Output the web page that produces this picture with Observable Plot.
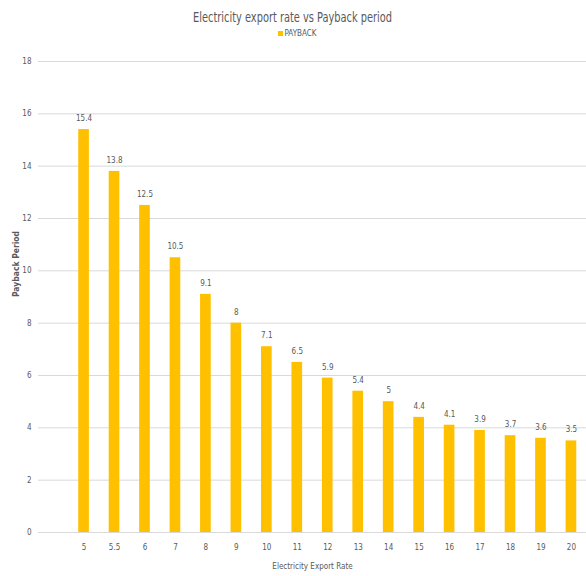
<!DOCTYPE html>
<html>
<head>
<meta charset="utf-8">
<script src="https://cdn.jsdelivr.net/npm/d3@7"></script>
<script src="https://cdn.jsdelivr.net/npm/@observablehq/plot@0.6"></script>
<style>
  html, body { margin: 0; padding: 0; background: #fff; }
  body { width: 586px; height: 576px; overflow: hidden; font-family: "Liberation Sans Narrow", "DejaVu Sans Condensed", sans-serif; color: #595959; }
  #title { height: 28px; line-height: 34px; text-align: center; font-size: 14px; color: #595959; }
  #title span { display: inline-block; transform: scaleX(0.78); }
  #legend { height: 17px; line-height: 12px; text-align: center; font-size: 8px; color: #595959; padding-left: 8px; }
  #legend .sw { display: inline-block; width: 5px; height: 5px; background: #FFC000; margin-right: 2px; vertical-align: 0px; }
  #chart svg { display: block; }
</style>
</head>
<body>
<div id="title"><span>Electricity export rate vs Payback period</span></div>
<div id="legend"><span class="sw"></span>PAYBACK</div>
<div id="chart"></div>
<script>
const rates = ["5", "5.5", "6", "7", "8", "9", "10", "11", "12", "13", "14", "15", "16", "17", "18", "19", "20"];
const payback = [15.4, 13.8, 12.5, 10.5, 9.1, 8, 7.1, 6.5, 5.9, 5.4, 5, 4.4, 4.1, 3.9, 3.7, 3.6, 3.5];
const yTicks = [0, 2, 4, 6, 8, 10, 12, 14, 16, 18];

const data = rates.map((r, i) => ({rate: r, payback: payback[i]}));

const chart = Plot.plot({
  width: 586,
  height: 531,
  marginTop: 16,
  marginBottom: 44,
  marginLeft: 38,
  marginRight: 0,
  style: {fontFamily: "'Liberation Sans Narrow', 'DejaVu Sans Condensed', sans-serif", fontSize: "8px", color: "#595959", background: "#fff"},
  x: {domain: rates, range: [63, 591.5], paddingInner: 0.65, paddingOuter: 0.5, round: false, label: null},
  y: {domain: [0, 18], ticks: yTicks, label: null},
  marks: [
    Plot.gridY(yTicks, {stroke: "#d9d9d9", strokeOpacity: 1, strokeWidth: 1}),
    Plot.barY(data, {x: "rate", y: "payback", fill: "#FFC000"}),
    Plot.text(data, {x: "rate", y: "payback", text: d => String(d.payback), dy: -11, fill: "#595959", fontSize: 8}),
    Plot.axisY({ticks: yTicks, tickSize: 0, tickPadding: 7, fontSize: 8, fill: "#595959", label: null, anchor: "left"}),
    Plot.axisX({tickSize: 0, tickPadding: 12, fontSize: 8, fill: "#595959", label: null}),
    Plot.text(["Payback Period"], {frameAnchor: "left", dx: -22, rotate: -90, fontSize: 8.5, fontWeight: "bold", fill: "#595959"}),
    Plot.text(["Electricity Export Rate"], {frameAnchor: "bottom", dy: 36, fontSize: 8, fill: "#595959"})
  ]
});
document.getElementById("chart").appendChild(chart);
</script>
</body>
</html>
